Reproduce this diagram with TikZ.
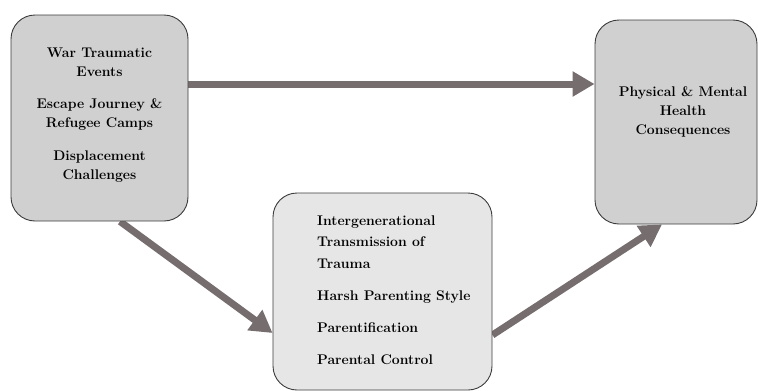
\documentclass[tikz,border=0pt]{standalone}
\usetikzlibrary{arrows.meta,backgrounds}
\definecolor{arrowgray}{RGB}{118,110,110}
\definecolor{boxdark}{RGB}{208,208,208}
\definecolor{boxlight}{RGB}{230,230,230}
\definecolor{edgegray}{RGB}{60,60,60}
\begin{document}
\begin{tikzpicture}[x=1pt,y=-1pt,
  box/.style={draw=edgegray, line width=0.9pt, rounded corners=24pt, inner sep=0pt},
  lbl/.style={font=\fontsize{14}{19}\selectfont\bfseries, inner sep=0pt},
  arr/.style={draw=arrowgray, line width=7pt, -{Triangle[length=22pt,width=24pt]}}]
\useasboundingbox (0,0) rectangle (758,391);
% boxes
\node[box, fill=boxdark, minimum width=177pt, minimum height=206pt] (L) at (99.5,118) {};
\node[box, fill=boxdark, minimum width=162pt, minimum height=204pt] (R) at (676,122) {};
\node[box, fill=boxlight, minimum width=219pt, minimum height=197pt] (M) at (382.5,291.5) {};
% texts
\node[lbl, align=center] (Lt) at (99.5,115)
  {War Traumatic\\Events\\[13.5pt]Escape Journey \&\\Refugee Camps\\[13.5pt]Displacement\\Challenges};
\node[lbl, align=center] (Rt) at (683,112)
  {Physical \& Mental\\Health\\Consequences};
\node[lbl, align=left, anchor=north west, font=\fontsize{14}{21.5}\selectfont\bfseries] (Mt) at (317,215.5)
  {Intergenerational\\Transmission of\\Trauma\\[10.5pt]Harsh Parenting Style\\[10.5pt]Parentification\\[10.5pt]Parental Control};
% connectors
\begin{scope}[on background layer]
\draw[arr] ([yshift=34pt]L.east) -- ([yshift=38pt]R.west);
\draw[arr] ([xshift=20.5pt]L.south) -- ([yshift=-41.5pt]M.west);
\draw[arr] ([yshift=-43.5pt]M.east) -- ([xshift=-14pt]R.south);
\end{scope}
\end{tikzpicture}
\end{document}
